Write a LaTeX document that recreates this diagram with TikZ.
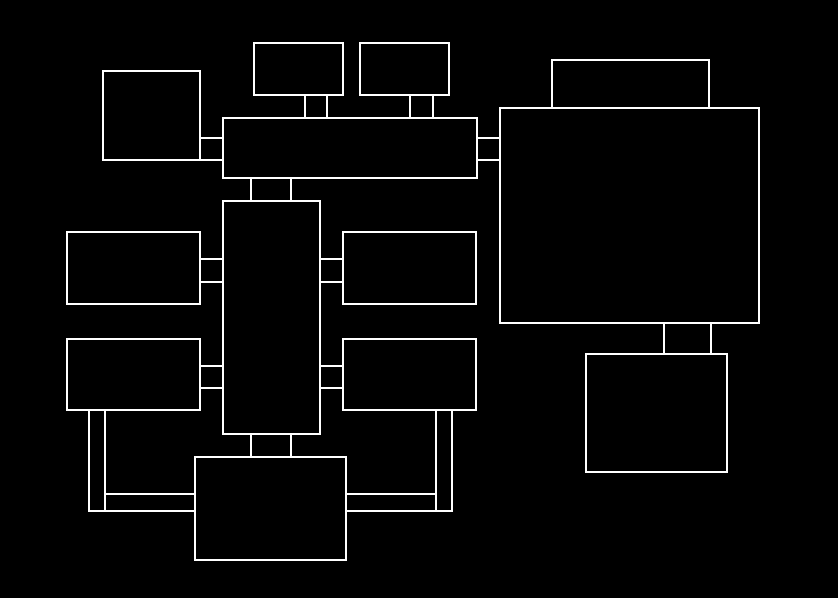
\documentclass[tikz,border=0pt]{standalone}
\tikzset{wall/.style={draw=white, line width=2pt}}
\begin{document}
\begin{tikzpicture}[x=1pt, y=-1pt]
\fill[black] (0, 0) rectangle (838, 598);
\useasboundingbox (0, 0) rectangle (838, 598);

% rooms
\draw[wall] (223, 118) rectangle (477, 178);
\draw[wall] (223, 201) rectangle (320, 434);
\draw[wall] (103, 71) rectangle (200, 160);
\draw[wall] (254, 43) rectangle (343, 95);
\draw[wall] (360, 43) rectangle (449, 95);
\draw[wall] (67, 232) rectangle (200, 304);
\draw[wall] (343, 232) rectangle (476, 304);
\draw[wall] (67, 339) rectangle (200, 410);
\draw[wall] (343, 339) rectangle (476, 410);
\draw[wall] (195, 457) rectangle (346, 560);
\draw[wall] (500, 108) rectangle (759, 323);
\draw[wall] (552, 60) rectangle (709, 108);
\draw[wall] (586, 354) rectangle (727, 472);

% doors
\draw[wall] (305, 95) rectangle (327, 118);
\draw[wall] (410, 95) rectangle (433, 118);
\draw[wall] (200, 138) rectangle (223, 160);
\draw[wall] (477, 138) rectangle (500, 160);
\draw[wall] (251, 178) rectangle (291, 201);
\draw[wall] (200, 259) rectangle (223, 282);
\draw[wall] (320, 259) rectangle (343, 282);
\draw[wall] (200, 366) rectangle (223, 388);
\draw[wall] (320, 366) rectangle (343, 388);
\draw[wall] (251, 434) rectangle (291, 457);
\draw[wall] (664, 323) rectangle (711, 354);

% side halls
\draw[wall] (89, 410) rectangle (105, 511);
\draw[wall] (105, 494) rectangle (195, 511);
\draw[wall] (436, 410) rectangle (452, 511);
\draw[wall] (346, 494) rectangle (436, 511);
\end{tikzpicture}
\end{document}
